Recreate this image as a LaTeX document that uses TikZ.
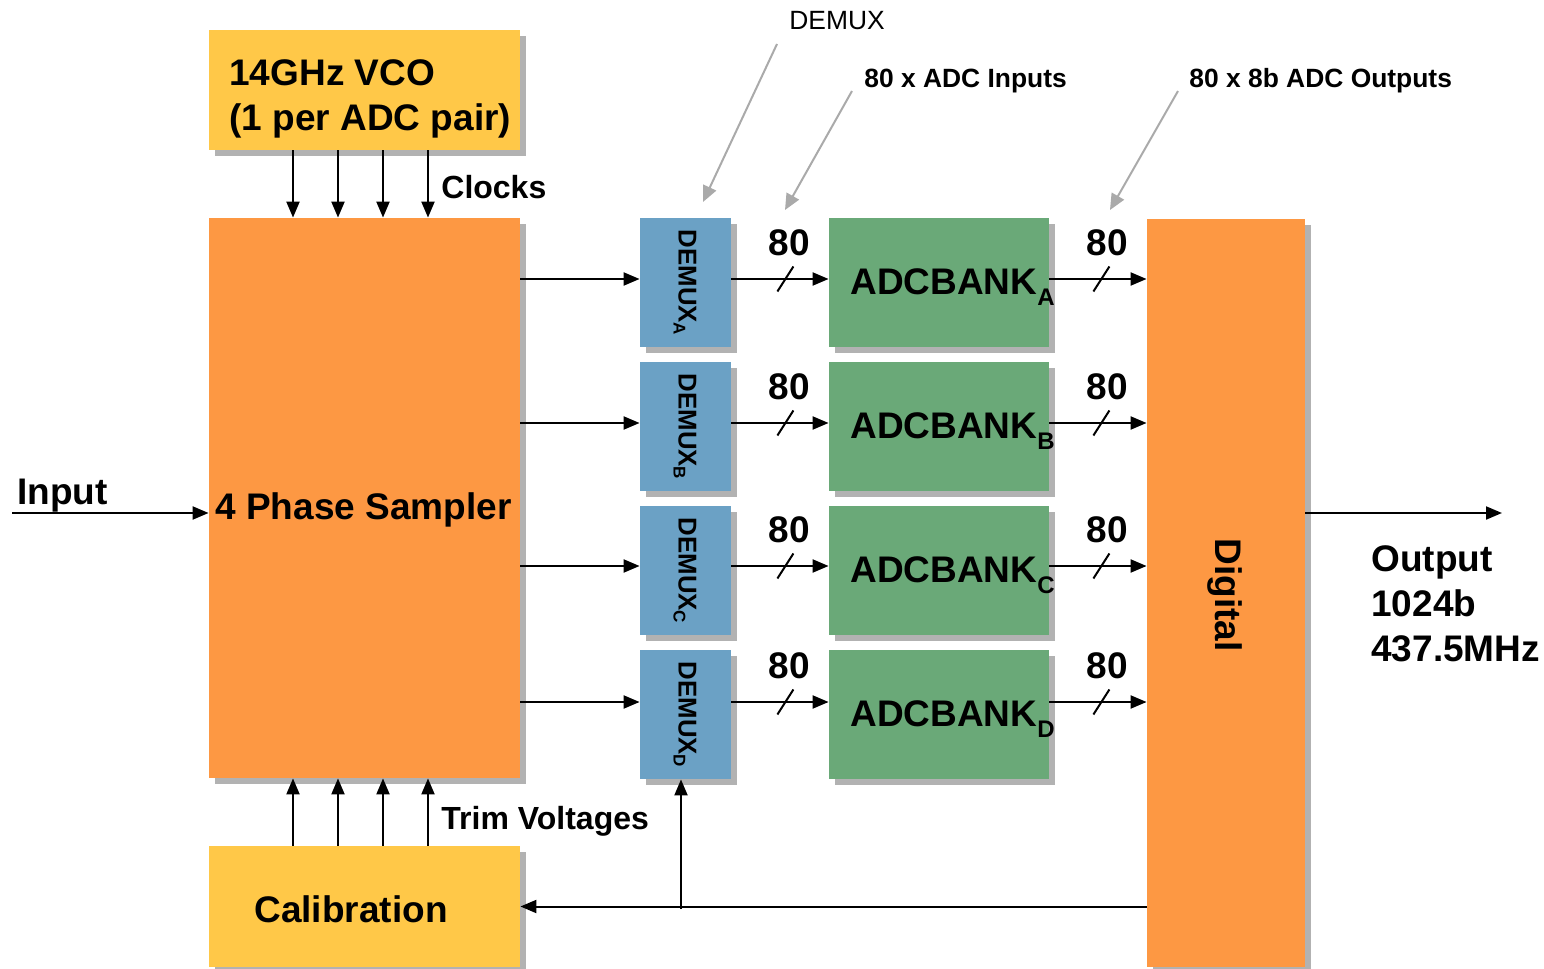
\documentclass[tikz,border=0pt]{standalone}
\usepackage{fontspec}
\setmainfont{Liberation Sans}
\usetikzlibrary{shadows,arrows.meta}
\definecolor{cyel}{RGB}{255,200,72}
\definecolor{corg}{RGB}{253,152,67}
\definecolor{cblu}{RGB}{107,161,197}
\definecolor{cgrn}{RGB}{106,169,120}
\newcommand{\subA}[1]{\raisebox{-5.5pt}{\fontsize{12}{12}\selectfont #1}}
\newcommand{\subD}[1]{\raisebox{-2.5pt}{\fontsize{8.5}{8.5}\selectfont #1}}
\begin{document}
\begin{tikzpicture}[x=0.5pt,y=-0.5pt,
  box/.style={draw=none, inner sep=0pt, drop shadow={shadow xshift=3pt,shadow yshift=-3pt,fill=gray!60,opacity=1}},
  big/.style={font=\fontsize{18.5}{22.5}\selectfont\bfseries, inner sep=0pt},
  mid/.style={font=\fontsize{16}{19}\selectfont\bfseries, inner sep=0pt},
  note/.style={font=\fontsize{13.2}{16}\selectfont\bfseries, inner sep=0pt},
  dmx/.style={font=\fontsize{12.9}{15}\selectfont\bfseries, inner sep=0pt, rotate=-90},
  arr/.style={-{Triangle[length=8pt,width=6.5pt]}, line width=1pt},
  garr/.style={-{Triangle[length=8pt,width=7pt]}, line width=1pt, draw=gray!67, color=gray!67},
  busmark/.style={line width=1pt}]
\useasboundingbox (0,0) rectangle (1544,969);

% blocks
\node[box, fill=cyel, minimum width=155.5pt, minimum height=60pt] (vco) at (364.5,90) {};
\node[box, fill=corg, minimum width=155.5pt, minimum height=280pt] (sampler) at (364.5,498) {};
\node[box, fill=cyel, minimum width=155.5pt, minimum height=60.5pt] (calib) at (364.5,906.5) {};
\node[box, fill=corg, minimum width=79pt, minimum height=374pt] (digital) at (1226,593) {};

\foreach \n/\y/\r in {A/282.5/279,B/426.5/423,C/570.5/566,D/714.5/702}{
  \node[box, fill=cblu, minimum width=45.5pt, minimum height=64.5pt] (demux\n) at (685.5,\y) {};
  \node[box, fill=cgrn, minimum width=110pt, minimum height=64.5pt] (adc\n) at (939,\y) {};
  \node[dmx] (demuxlbl\n) at (685,\y) {DEMUX\subD{\n}};
  \node[big, anchor=base west] (adclbl\n) at (850,\y+11.5) {ADCBANK\subA{\n}};
  \coordinate (row\n) at (0,\r);
}

% block labels
\node[big, anchor=west, align=left] (vcolbl) at (229,99) {14GHz VCO\\(1 per ADC pair)};
\node[big] (samplerlbl) at (363.5,510) {4 Phase Sampler};
\node[big] (caliblbl) at (351,909) {Calibration};
\node[big, rotate=-90] (digitallbl) at (1225,595) {Digital};

% input / output
\coordinate (inp) at (12,513);
\coordinate (outp) at (1502,513);
\draw[arr] (inp) -- (inp -| sampler.west);
\node[big, anchor=west] (inputlbl) at (17,496) {Input};
\draw[arr] (outp -| digital.east) -- (outp);
\node[big, anchor=west, align=left] (outputlbl) at (1371,604) {Output\\1024b\\437.5MHz};

% clocks and trim voltages
\foreach \i/\x in {1/293,2/338,3/383,4/428}{
  \coordinate (cx\i) at (\x,0);
  \draw[arr] (vco.south -| cx\i) -- (sampler.north -| cx\i);
  \draw[arr] (calib.north -| cx\i) -- (sampler.south -| cx\i);
}
\node[mid, anchor=west] (clockslbl) at (441,187) {Clocks};
\node[mid, anchor=west] (trimlbl) at (441,821) {Trim Voltages};

% data paths
\foreach \n in {A,B,C,D}{
  \draw[arr] (sampler.east |- row\n) -- (demux\n.west |- row\n);
  \draw[arr] (demux\n.east |- row\n) -- (adc\n.west |- row\n);
  \draw[arr] (adc\n.east |- row\n) -- (digital.west |- row\n);
  \coordinate (s1\n) at ([xshift=27pt]demux\n.east |- row\n);
  \coordinate (s2\n) at ([xshift=26pt]adc\n.east |- row\n);
  \draw[busmark] ([shift={(-8,12.5)}]s1\n) -- ++(16,-25);
  \draw[busmark] ([shift={(-8,12.5)}]s2\n) -- ++(16,-25);
  \node[big] (b1\n) at ([shift={(4,-36)}]s1\n) {80};
  \node[big] (b2\n) at ([shift={(6,-36)}]s2\n) {80};
}

% feedback
\draw[arr] (digital.west |- calib.east) -- (calib.east);
\coordinate (fbx) at (681,909);
\draw[arr] (fbx) -- (fbx |- demuxD.south);

% annotations
\node[font=\fontsize{13.2}{16}\selectfont, inner sep=0pt, anchor=west] (demuxnote) at (789,21) {DEMUX};
\node[note, anchor=west] (innote) at (864,81) {80 x ADC Inputs};
\node[note, anchor=west] (outnote) at (1189,81) {80 x 8b ADC Outputs};
\coordinate (g1a) at (777,44);  \coordinate (g1b) at (703,202);
\coordinate (g2a) at (852,91);  \coordinate (g2b) at (785,210);
\coordinate (g3a) at (1178,91); \coordinate (g3b) at (1110,210);
\draw[garr] (g1a) -- (g1b);
\draw[garr] (g2a) -- (g2b);
\draw[garr] (g3a) -- (g3b);
\end{tikzpicture}
\end{document}
